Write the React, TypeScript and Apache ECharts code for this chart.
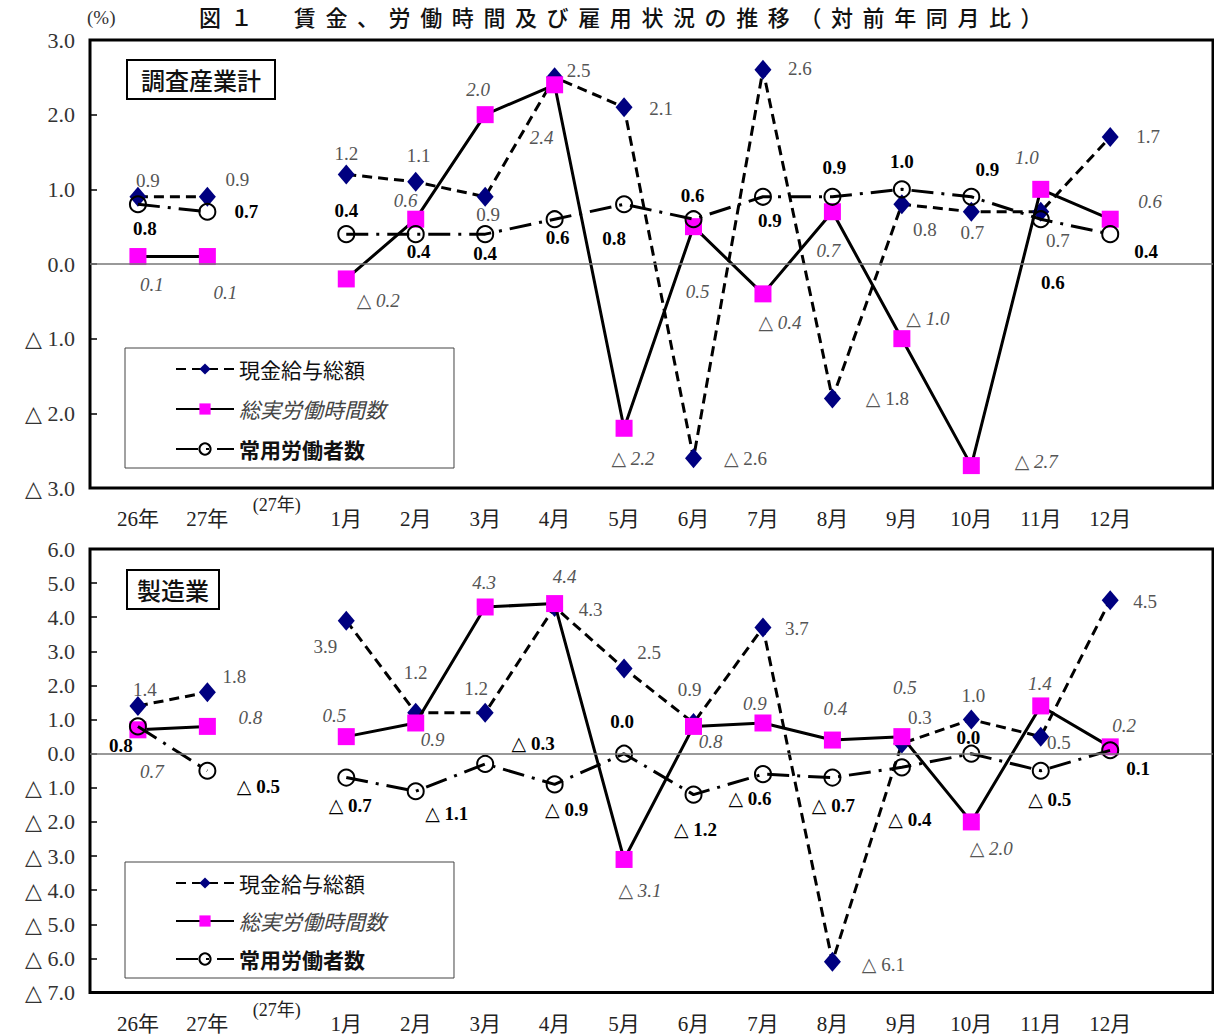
import React, { useEffect, useRef } from 'react';
import * as echarts from 'echarts';

// Category labels along the bottom of each panel (index 2 is the "(27年)" marker column)
const categories = ['26年', '27年', '(27年)', '1月', '2月', '3月', '4月', '5月', '6月', '7月', '8月', '9月', '10月', '11月', '12月'];

// 調査産業計 (all surveyed industries), year-on-year change in %
const allWage = [0.9, 0.9, null, 1.2, 1.1, 0.9, 2.5, 2.1, -2.6, 2.6, -1.8, 0.8, 0.7, 0.7, 1.7];
const allHours = [0.1, 0.1, null, -0.2, 0.6, 2.0, 2.4, -2.2, 0.5, -0.4, 0.7, -1.0, -2.7, 1.0, 0.6];
const allWorkers = [0.8, 0.7, null, 0.4, 0.4, 0.4, 0.6, 0.8, 0.6, 0.9, 0.9, 1.0, 0.9, 0.6, 0.4];

// 製造業 (manufacturing), year-on-year change in %
const mfgWage = [1.4, 1.8, null, 3.9, 1.2, 1.2, 4.3, 2.5, 0.9, 3.7, -6.1, 0.3, 1.0, 0.5, 4.5];
const mfgHours = [0.7, 0.8, null, 0.5, 0.9, 4.3, 4.4, -3.1, 0.8, 0.9, 0.4, 0.5, -2.0, 1.4, 0.2];
const mfgWorkers = [0.8, -0.5, null, -0.7, -1.1, -0.3, -0.9, 0.0, -1.2, -0.6, -0.7, -0.4, 0.0, -0.5, 0.1];

const seriesNames = ['現金給与総額', '総実労働時間数', '常用労働者数'];

// Value-label placement relative to each marker, [dx, dy] in pixels
const allWageLabelOffsets = [[10, -16], [30, -17], [0, 0], [0, -21], [3, -26], [3, 18], [24, -7], [37, 1], [52, 0], [37, -1], [55, 0], [23, 25], [1, 21], [17, 29], [38, -1]];
const allHoursLabelOffsets = [[14, 28], [18, 36], [0, 0], [32, 22], [-10, -19], [-7, -25], [-13, 53], [9, 30], [4, 65], [17, 29], [-4, 39], [26, -20], [65, -4], [-14, -32], [40, -18]];
const allWorkersLabelOffsets = [[7, 24], [39, 0], [0, 0], [0, -24], [3, 17], [0, 19], [3, 18], [-10, 34], [-1, -24], [7, 24], [2, -29], [0, -28], [16, -27], [12, 63], [36, 17]];

const mfgWageLabelOffsets = [[7, -16], [27, -16], [0, 0], [-21, 26], [0, -40], [-9, -24], [36, 3], [25, -16], [-4, -33], [34, 1], [51, 3], [18, -26], [2, -24], [18, 6], [35, 1]];
const mfgHoursLabelOffsets = [[14, 42], [43, -9], [0, 0], [-12, -21], [17, 17], [-1, -24], [10, -27], [16, 31], [17, 15], [-8, -19], [3, -32], [3, -49], [20, 27], [-1, -22], [14, -21]];
const mfgWorkersLabelOffsets = [[-17, 19], [51, 16], [0, 0], [4, 28], [31, 22], [48, -20], [12, 25], [-2, -32], [2, 35], [-13, 24], [1, 28], [8, 52], [-3, -16], [9, 29], [28, 18]];

const SERIF = "'Liberation Serif', 'DejaVu Serif', 'Noto Sans CJK JP', serif";
const CJK = "'Noto Sans CJK JP', 'Noto Sans CJK SC', sans-serif";

const fmt = (v: number) => (v < 0 ? '△ ' + Math.abs(v).toFixed(1) : v.toFixed(1));

function points(values: (number | null)[], offsets: number[][]) {
  return values.map((v, i) =>
    v === null ? { value: [i, '-'] } : { value: [i, v], label: { offset: offsets[i] } }
  );
}

const labelBase = {
  show: true,
  position: 'inside',
  fontFamily: SERIF,
  fontSize: 19,
  formatter: (p: any) => fmt(p.value[1]),
};

function panelSeries(
  idx: number,
  wage: (number | null)[],
  hours: (number | null)[],
  workers: (number | null)[],
  offs: number[][][]
) {
  return [
    {
      name: seriesNames[0],
      type: 'line',
      xAxisIndex: idx,
      yAxisIndex: idx,
      data: points(wage, offs[0]),
      symbol: 'diamond',
      symbolSize: [17, 20],
      itemStyle: { color: '#000080' },
      lineStyle: { color: '#000', width: 3, type: [10, 6] },
      label: { ...labelBase, color: '#555' },
      markLine: {
        silent: true,
        symbol: ['none', 'none'],
        label: { show: false },
        lineStyle: { color: '#777', width: 1.5, type: 'solid' },
        data: [{ yAxis: 0 }],
      },
      z: 2,
    },
    {
      name: seriesNames[1],
      type: 'line',
      xAxisIndex: idx,
      yAxisIndex: idx,
      data: points(hours, offs[1]),
      symbol: 'rect',
      symbolSize: 17,
      itemStyle: { color: '#ff00ff' },
      lineStyle: { color: '#000', width: 3, type: 'solid' },
      label: { ...labelBase, color: '#555', fontStyle: 'italic' },
      z: 3,
    },
    {
      name: seriesNames[2],
      type: 'line',
      xAxisIndex: idx,
      yAxisIndex: idx,
      data: points(workers, offs[2]),
      symbol: 'circle',
      symbolSize: 16,
      itemStyle: { color: 'rgba(255,255,255,0)', borderColor: '#000', borderWidth: 2 },
      lineStyle: { color: '#000', width: 3, type: [22, 8, 3, 8] },
      label: { ...labelBase, color: '#000', fontWeight: 'bold' },
      z: 4,
    },
  ];
}

function xAxisFor(idx: number) {
  return {
    type: 'value',
    gridIndex: idx,
    min: -0.69,
    max: 15.48,
    axisLine: { show: false, onZero: false },
    axisTick: { show: false },
    splitLine: { show: false },
    axisLabel: {
      customValues: categories.map((_, i) => i),
      verticalAlign: 'middle',
      margin: 31,
      fontFamily: SERIF,
      fontSize: 21,
      color: '#222',
      formatter: (v: number) => {
        const i = Math.round(v);
        return i === 2 ? '{up|' + categories[i] + '}' : categories[i];
      },
      rich: {
        up: { fontFamily: SERIF, fontSize: 18, color: '#222', padding: [0, 0, 28, 0] },
      },
    },
  };
}

function yAxisFor(idx: number, min: number, max: number) {
  return {
    type: 'value',
    gridIndex: idx,
    min,
    max,
    interval: 1,
    axisLine: { show: false, onZero: false },
    axisTick: { show: true, inside: true, length: 7, lineStyle: { color: '#000', width: 1.5 } },
    splitLine: { show: false },
    axisLabel: {
      margin: 15,
      fontFamily: SERIF,
      fontSize: 22,
      color: '#333',
      formatter: (v: number) => fmt(v),
    },
  };
}

function legendFor(top: number, gap: number) {
  return {
    orient: 'vertical',
    left: 125,
    top,
    selectedMode: false,
    borderColor: '#444',
    borderWidth: 1,
    padding: [9, 68, 7, 50],
    itemWidth: 58,
    itemHeight: 14,
    itemGap: gap,
    textStyle: { fontFamily: CJK, fontSize: 21, lineHeight: 24, color: '#111' },
    data: [
      { name: seriesNames[0] },
      { name: seriesNames[1], textStyle: { fontStyle: 'italic', color: '#444' } },
      { name: seriesNames[2], textStyle: { fontWeight: 'bold' } },
    ],
  };
}

function panelTitle(text: string, top: number, padH: number) {
  return {
    text,
    left: 127,
    top,
    padding: [7, padH, 8, padH],
    borderColor: '#000',
    borderWidth: 2,
    textStyle: { fontFamily: CJK, fontSize: 24, fontWeight: 500, color: '#111' },
  };
}

export default function App() {
  const ref = useRef<HTMLDivElement>(null);

  useEffect(() => {
    if (!ref.current) return;
    const chart = echarts.init(ref.current, null, { renderer: 'svg' });
    chart.setOption({
      animation: false,
      backgroundColor: '#fff',
      title: [
        {
          text: '(%)',
          left: 87,
          top: 8,
          padding: 0,
          textStyle: { fontFamily: SERIF, fontSize: 19, fontWeight: 'normal', color: '#333' },
        },
        panelTitle('調査産業計', 60, 14),
        panelTitle('製造業', 570, 10),
      ],
      grid: [
        { left: 90, top: 40, width: 1123, height: 448, show: true, borderColor: '#000', borderWidth: 3 },
        { left: 90, top: 549, width: 1123, height: 444, show: true, borderColor: '#000', borderWidth: 3 },
      ],
      xAxis: [xAxisFor(0), xAxisFor(1)],
      yAxis: [yAxisFor(0, -3, 3), yAxisFor(1, -7, 6)],
      legend: [legendFor(348, 16), legendFor(862, 14)],
      series: [
        ...panelSeries(0, allWage, allHours, allWorkers, [allWageLabelOffsets, allHoursLabelOffsets, allWorkersLabelOffsets]),
        ...panelSeries(1, mfgWage, mfgHours, mfgWorkers, [mfgWageLabelOffsets, mfgHoursLabelOffsets, mfgWorkersLabelOffsets]),
      ],
    });
    return () => chart.dispose();
  }, []);

  return (
    <div
      style={{
        position: 'fixed',
        left: 0,
        top: 0,
        width: 1214,
        height: 1034,
        overflow: 'hidden',
        background: '#fff',
      }}
    >
      <div ref={ref} style={{ position: 'absolute', left: 0, top: 0, width: 1214, height: 1034 }} />
      <div
        style={{
          position: 'absolute',
          left: 199,
          top: 1,
          fontFamily: CJK,
          fontWeight: 500,
          fontSize: 22,
          lineHeight: '30px',
          letterSpacing: '9.6px',
          whiteSpace: 'nowrap',
          color: '#111',
        }}
      >
        図１　賃金、労働時間及び雇用状況の推移（対前年同月比）
      </div>
    </div>
  );
}
